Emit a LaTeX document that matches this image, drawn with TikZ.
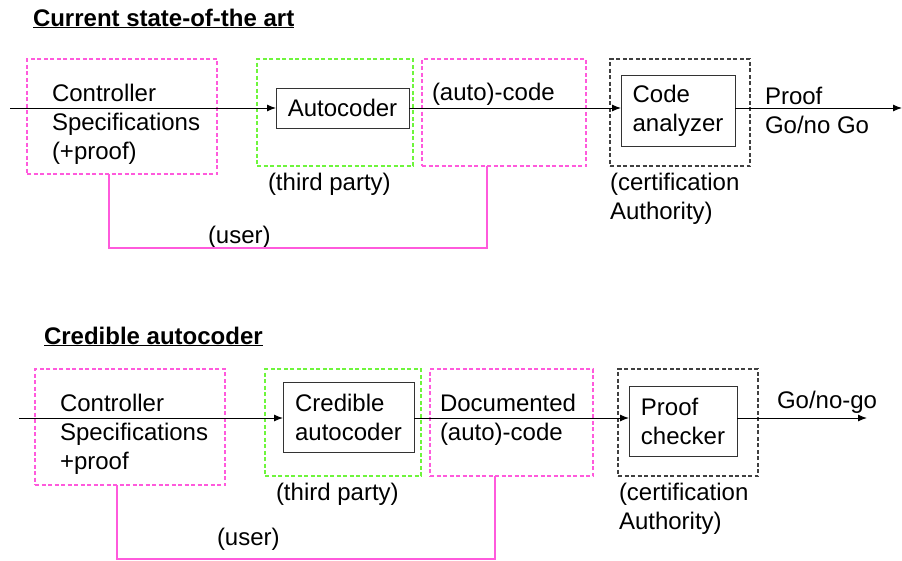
\documentclass[tikz,border=0pt]{standalone}
\usepackage{fontspec}
\setmainfont{Liberation Sans}
\usetikzlibrary{arrows.meta}
\definecolor{pinkline}{RGB}{255,90,220}
\definecolor{greenline}{RGB}{110,245,60}
\begin{document}
\begin{tikzpicture}[
        x=1pt, y=-1pt,
        every node/.style={font=\fontsize{24}{29}\selectfont, outer sep=0pt},
        txt/.style={anchor=base west, inner sep=0pt, align=left},
        title/.style={anchor=base west, inner sep=0pt, font=\fontsize{24}{29}\selectfont\bfseries},
        pinkbox/.style={draw=pinkline, line width=1.2pt, dash pattern=on 4pt off 2.5pt, anchor=north west},
        greenbox/.style={draw=greenline, line width=1.2pt, dash pattern=on 4pt off 2.5pt, anchor=north west},
        authbox/.style={draw=black!75, line width=1.2pt, dash pattern=on 4pt off 2.5pt, anchor=north west},
        toolbox/.style={draw=black!80, line width=1pt, anchor=north west, align=left, inner sep=0pt},
        flow/.style={line width=1pt, -{Latex[length=9pt,width=7pt]}},
        userline/.style={draw=pinkline, line width=1.1pt}
    ]
        \useasboundingbox (0,0) rectangle (902,560);

        % Upper chain
        % (multi-line texts sit on the baseline of their last line)
        \node[title] (title1) at (33,26) {\underline{Current state-of-the art}};
        \node[pinkbox, minimum width=190pt, minimum height=115pt] (spec1) at (27,59) {};
        \node[greenbox, minimum width=156pt, minimum height=107pt] (third1) at (257,59) {};
        \node[pinkbox, minimum width=164pt, minimum height=107pt] (code1) at (422,59) {};
        \node[authbox, minimum width=140pt, minimum height=107pt] (auth1) at (610,59) {};
        \node[toolbox, minimum width=133pt, minimum height=40pt] (autocoder) at (276,88) {Autocoder};
        \node[toolbox, minimum width=114pt, minimum height=71pt] (analyzer) at (621,75) {Code\\analyzer};

        \node[txt] (spectxt1) at (52,159) {Controller\\Specifications\\(+proof)};
        \node[txt] (codetxt1) at (432,100) {(auto)-code};
        \node[txt] (prooftxt) at (765,133) {Proof\\Go/no Go};
        \node[txt] (thirdtxt1) at (268,190) {(third party)};
        \node[txt] (authtxt1) at (610,219) {(certification\\Authority)};
        \node[txt] (usertxt1) at (208,243) {(user)};

        \coordinate (in1) at (10,108);
        \coordinate (out1) at (902,108);
        \draw[flow] (in1) -- (autocoder.west);
        \draw[flow] (autocoder.east) -- (autocoder.east -| analyzer.west);
        \draw[flow] (autocoder.east -| analyzer.east) -- (out1);

        \coordinate (u1a) at (109,248);
        \coordinate (u1b) at (487,248);
        \draw[userline] (spec1.south -| u1a) -- (u1a) -- (u1b) -- (code1.south -| u1b);

        % Lower chain
        \node[title] (title2) at (44,344) {\underline{Credible autocoder}};
        \node[pinkbox, minimum width=190pt, minimum height=116pt] (spec2) at (35,369) {};
        \node[greenbox, minimum width=156pt, minimum height=107pt] (third2) at (265,369) {};
        \node[pinkbox, minimum width=163pt, minimum height=107pt] (code2) at (430,369) {};
        \node[authbox, minimum width=140pt, minimum height=107pt] (auth2) at (618,369) {};
        \node[toolbox, minimum width=131pt, minimum height=70pt] (credible) at (283,382) {Credible\\autocoder};
        \node[toolbox, minimum width=108pt, minimum height=70pt] (checker) at (629,386) {Proof\\checker};

        \node[txt] (spectxt2) at (60,469) {Controller\\Specifications\\+proof};
        \node[txt] (codetxt2) at (440,440) {Documented\\(auto)-code};
        \node[txt] (gotxt) at (777,408) {Go/no-go};
        \node[txt] (thirdtxt2) at (276,500) {(third party)};
        \node[txt] (authtxt2) at (619,529) {(certification\\Authority)};
        \node[txt] (usertxt2) at (217,545) {(user)};

        \coordinate (in2) at (19,418);
        \coordinate (out2) at (867,418);
        \draw[flow] (in2) -- (in2 -| credible.west);
        \draw[flow] (in2 -| credible.east) -- (in2 -| checker.west);
        \draw[flow] (in2 -| checker.east) -- (out2);

        \coordinate (u2a) at (117,559);
        \coordinate (u2b) at (495,559);
        \draw[userline] (spec2.south -| u2a) -- (u2a) -- (u2b) -- (code2.south -| u2b);
    \end{tikzpicture}
\end{document}
